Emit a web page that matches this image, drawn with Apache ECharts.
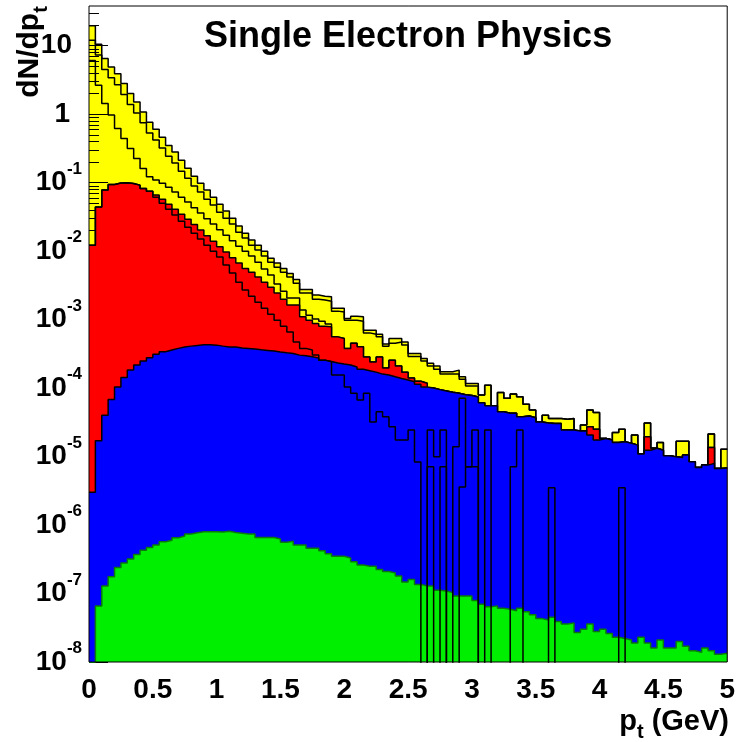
<!DOCTYPE html>
<html>
<head>
<meta charset="utf-8">
<script src="https://cdn.jsdelivr.net/npm/echarts@6/dist/echarts.min.js"></script>
<style>
  html, body { margin: 0; padding: 0; background: #fff; }
  #chart { width: 738px; height: 742px; }
</style>
</head>
<body>
<div id="chart"></div>
<script>
// pt histograms, 100 bins of 0.05 GeV from 0 to 5
const N_BINS = 100
const BIN_WIDTH = 0.05
const binLow = Array.from({ length: N_BINS }, (_, i) => +(i * BIN_WIDTH).toFixed(2))

// yellow: all sources
const totalHist = [
  19.5, 10.5, 6.5, 4.9, 3.9, 2.8, 2.0, 1.51, 1.08, 0.76,
  0.60, 0.46, 0.35, 0.28, 0.213, 0.163, 0.124, 0.098, 0.078, 0.061,
  0.0485, 0.0384, 0.0303, 0.0232, 0.0183, 0.0145, 0.0122, 0.0100, 0.0079, 0.0067,
  0.0056, 0.00472, 0.00386, 0.00276, 0.00275, 0.00228, 0.0022, 0.00215, 0.00146, 0.00146,
  0.00104, 0.00112, 0.0011, 7.0e-4, 7.0e-4, 6.1e-4, 4.4e-4, 5.3e-4, 5.3e-4, 4.7e-4,
  3.2e-4, 3.2e-4, 2.7e-4, 2.3e-4, 2.1e-4, 1.73e-4, 1.73e-4, 1.83e-4, 1.46e-4, 1.17e-4,
  1.17e-4, 7.9e-5, 1.1e-4, 5.5e-5, 8.65e-5, 7.1e-5, 8.2e-5, 7.5e-5, 5.8e-5, 4.8e-5,
  3.2e-5, 4.0e-5, 3.6e-5, 3.6e-5, 3.5e-5, 3.6e-5, 2.36e-5, 2.9e-5, 4.8e-5, 4.4e-5,
  1.84e-5, 1.74e-5, 2.25e-5, 2.5e-5, 1.56e-5, 2.06e-5, 1.09e-5, 3.1e-5, 1.32e-5, 1.61e-5,
  1.03e-5, 9.9e-6, 1.68e-5, 1.68e-5, 8.4e-6, 6.95e-6, 7.5e-6, 2.13e-5, 6.7e-6, 1.28e-5,
]

// outline only, inside the yellow
const lineA = [
  12.0, 7.3, 4.5, 3.4, 2.7, 1.94, 1.39, 1.04, 0.75, 0.53,
  0.42, 0.32, 0.244, 0.193, 0.147, 0.116, 0.089, 0.073, 0.057, 0.047,
  0.037, 0.0303, 0.0248, 0.0189, 0.0155, 0.0122, 0.0104, 0.0085, 0.0069, 0.0058,
  0.0049, 0.0042, 0.0034, 0.00244, 0.00244, 0.00199, 0.00193, 0.00186, 0.00133, 0.00129,
  9.8e-4, 9.8e-4, 9.5e-4, 6.4e-4, 6.1e-4, 5.6e-4, 4.1e-4, 4.5e-4, 4.7e-4, 4.25e-4,
  2.9e-4, 2.9e-4, 2.48e-4, 2.1e-4, 1.89e-4, 1.6e-4, 1.6e-4, 1.6e-4, 1.35e-4, 1.07e-4,
  1.07e-4, 7.9e-5, 1.1e-4, 5.5e-5, 8.65e-5, 7.1e-5, 8.2e-5, 7.5e-5, 5.8e-5, 4.8e-5,
  3.2e-5, 4.0e-5, 3.6e-5, 3.6e-5, 3.5e-5, 3.6e-5, 2.36e-5, 2.9e-5, 4.8e-5, 4.4e-5,
  1.84e-5, 1.74e-5, 2.25e-5, 2.5e-5, 1.56e-5, 2.06e-5, 1.09e-5, 3.1e-5, 1.32e-5, 1.61e-5,
  1.03e-5, 9.9e-6, 1.68e-5, 1.68e-5, 8.4e-6, 6.95e-6, 7.5e-6, 2.13e-5, 6.7e-6, 1.28e-5,
]

// red
const redHist = [
  1.22e-2, 4.4e-2, 7.8e-2, 9.4e-2, 9.9e-2, 1.0e-1, 9.7e-2, 9.2e-2, 8.2e-2, 7.5e-2,
  6.6e-2, 5.7e-2, 4.85e-2, 4.1e-2, 3.47e-2, 2.93e-2, 2.44e-2, 2.03e-2, 1.68e-2, 1.40e-2,
  1.16e-2, 9.7e-3, 8.0e-3, 6.7e-3, 5.6e-3, 4.9e-3, 4.2e-3, 3.5e-3, 2.98e-3, 2.44e-3,
  1.99e-3, 1.63e-3, 1.63e-3, 1.1e-3, 9.8e-4, 8.8e-4, 8.0e-4, 7.85e-4, 5.6e-4, 5.3e-4,
  3.8e-4, 4.5e-4, 4.0e-4, 2.84e-4, 2.4e-4, 2.84e-4, 1.96e-4, 2.56e-4, 2.1e-4, 1.71e-4,
  1.40e-4, 1.26e-4, 1.18e-4, 1.0e-4, 9.5e-5, 9.1e-5, 8.7e-5, 8.4e-5, 8.0e-5, 7.8e-5,
  7.4e-5, 6.1e-5, 5.5e-5, 5.5e-5, 4.5e-5, 4.3e-5, 4.3e-5, 3.8e-5, 3.9e-5, 3.7e-5,
  3.2e-5, 3.1e-5, 3.05e-5, 3.05e-5, 2.44e-5, 2.44e-5, 2.36e-5, 2.36e-5, 2.72e-5, 2.5e-5,
  1.84e-5, 1.74e-5, 1.61e-5, 1.64e-5, 1.56e-5, 1.47e-5, 1.09e-5, 1.95e-5, 1.32e-5, 1.24e-5,
  1.03e-5, 9.9e-6, 9.7e-6, 1.05e-5, 8.4e-6, 6.95e-6, 7.5e-6, 1.36e-5, 6.7e-6, 6.8e-6,
]

// outline only, between yellow lines and red
const lineB = [
  6.1, 2.65, 1.43, 0.97, 0.62, 0.44, 0.315, 0.225, 0.161, 0.122,
  0.109, 0.098, 0.086, 0.073, 0.061, 0.052, 0.043, 0.036, 0.0298, 0.0248,
  0.0206, 0.0171, 0.0142, 0.0118, 0.0100, 0.0085, 0.0069, 0.0055, 0.0045, 0.0033,
  0.0026, 0.00206, 0.00206, 0.00138, 0.00116, 0.00102, 9.5e-4, 8.6e-4, 5.6e-4, 5.3e-4,
  3.8e-4, 4.5e-4, 4.0e-4, 2.84e-4, 2.4e-4, 2.84e-4, 1.96e-4, 2.56e-4, 2.1e-4, 1.71e-4,
  1.40e-4, 1.26e-4, 1.18e-4, 1.0e-4, 9.5e-5, 9.1e-5, 8.7e-5, 8.4e-5, 8.0e-5, 7.8e-5,
  7.4e-5, 6.1e-5, 5.5e-5, 5.5e-5, 4.5e-5, 4.3e-5, 4.3e-5, 3.8e-5, 3.9e-5, 3.7e-5,
  3.2e-5, 3.1e-5, 3.05e-5, 3.05e-5, 2.44e-5, 2.44e-5, 2.36e-5, 2.36e-5, 2.72e-5, 2.5e-5,
  1.84e-5, 1.74e-5, 1.61e-5, 1.64e-5, 1.56e-5, 1.47e-5, 1.09e-5, 1.95e-5, 1.32e-5, 1.24e-5,
  1.03e-5, 9.9e-6, 9.7e-6, 1.05e-5, 8.4e-6, 6.95e-6, 7.5e-6, 1.36e-5, 6.7e-6, 6.8e-6,
]

// blue
const blueHist = [
  3.0e-6, 1.7e-5, 4.0e-5, 6.8e-5, 1.04e-4, 1.43e-4, 1.83e-4, 2.17e-4, 2.48e-4, 2.77e-4,
  3.13e-4, 3.39e-4, 3.59e-4, 3.8e-4, 3.97e-4, 4.1e-4, 4.2e-4, 4.29e-4, 4.29e-4, 4.24e-4,
  4.1e-4, 3.97e-4, 3.97e-4, 3.84e-4, 3.8e-4, 3.71e-4, 3.62e-4, 3.55e-4, 3.47e-4, 3.36e-4,
  3.27e-4, 3.21e-4, 3.03e-4, 2.96e-4, 2.86e-4, 2.74e-4, 2.56e-4, 2.44e-4, 2.32e-4, 2.24e-4,
  2.17e-4, 2.03e-4, 1.89e-4, 1.79e-4, 1.71e-4, 1.60e-4, 1.55e-4, 1.46e-4, 1.38e-4, 1.31e-4,
  1.24e-4, 1.14e-4, 1.04e-4, 1.0e-4, 9.5e-5, 9.1e-5, 8.7e-5, 8.4e-5, 8.0e-5, 7.8e-5,
  7.4e-5, 6.1e-5, 5.5e-5, 5.5e-5, 4.5e-5, 4.3e-5, 4.3e-5, 3.8e-5, 3.9e-5, 3.7e-5,
  3.2e-5, 3.1e-5, 3.05e-5, 3.05e-5, 2.44e-5, 2.44e-5, 2.36e-5, 2.36e-5, 2.06e-5, 1.74e-5,
  1.84e-5, 1.74e-5, 1.61e-5, 1.64e-5, 1.56e-5, 1.47e-5, 1.09e-5, 1.24e-5, 1.32e-5, 1.24e-5,
  1.03e-5, 9.9e-6, 9.7e-6, 1.05e-5, 8.4e-6, 6.95e-6, 7.5e-6, 7.96e-6, 6.7e-6, 6.8e-6,
]

// green
const greenHist = [
  0, 6.6e-8, 1.29e-7, 1.76e-7, 2.4e-7, 2.8e-7, 3.2e-7, 3.7e-7, 4.3e-7, 4.7e-7,
  5.1e-7, 5.7e-7, 6.0e-7, 6.5e-7, 6.9e-7, 7.4e-7, 7.7e-7, 8.0e-7, 8.0e-7, 8.0e-7,
  7.9e-7, 8.1e-7, 7.8e-7, 7.6e-7, 7.4e-7, 7.4e-7, 6.6e-7, 6.6e-7, 6.6e-7, 6.25e-7,
  5.6e-7, 5.8e-7, 5.1e-7, 5.1e-7, 4.6e-7, 4.6e-7, 4.2e-7, 3.8e-7, 3.5e-7, 3.5e-7,
  3.3e-7, 2.9e-7, 2.6e-7, 2.5e-7, 2.5e-7, 2.25e-7, 2.1e-7, 2.0e-7, 1.8e-7, 1.47e-7,
  1.6e-7, 1.36e-7, 1.29e-7, 1.29e-7, 1.12e-7, 1.09e-7, 1.03e-7, 9.2e-8, 9.2e-8, 9.2e-8,
  7.9e-8, 7.0e-8, 6.4e-8, 6.6e-8, 6.1e-8, 5.9e-8, 5.6e-8, 6.1e-8, 5.4e-8, 4.9e-8,
  4.3e-8, 4.1e-8, 4.5e-8, 3.9e-8, 3.6e-8, 3.7e-8, 2.7e-8, 3.0e-8, 3.6e-8, 2.8e-8,
  3.0e-8, 2.6e-8, 2.3e-8, 2.2e-8, 2.1e-8, 1.9e-8, 2.3e-8, 1.9e-8, 1.6e-8, 2.1e-8,
  1.6e-8, 1.6e-8, 2.0e-8, 1.7e-8, 1.46e-8, 1.39e-8, 1.6e-8, 1.46e-8, 1.3e-8, 1.34e-8,
]

// outline only, runs through red then blue, low statistics at high pt
const lineC = [
  1.22e-2, 4.4e-2, 7.8e-2, 9.4e-2, 9.9e-2, 1.0e-1, 9.7e-2, 9.2e-2, 8.2e-2, 7.5e-2,
  0.0614, 0.0502, 0.041, 0.0336, 0.0274, 0.0224, 0.0183, 0.0150, 0.0122, 0.0100,
  0.0082, 0.0063, 0.0048, 0.0035, 0.0027, 0.0022, 0.0018, 0.00147, 0.0012, 9.8e-4,
  8.0e-4, 6.6e-4, 4.7e-4, 3.8e-4, 3.59e-4, 3.03e-4, 2.56e-4, 2.42e-4, 1.55e-4, 1.55e-4,
  1.04e-4, 8.4e-5, 6.7e-5, 8.4e-5, 3.2e-5, 4.5e-5, 3.8e-5, 2.72e-5, 1.74e-5, 1.74e-5,
  2.44e-5, 8.3e-6, 0, 2.44e-5, 9.9e-6, 2.44e-5, 0, 1.39e-5, 7.1e-5, 7.1e-6,
  2.44e-5, 0, 2.44e-5, 0, 0, 0, 7.1e-6, 2.44e-5, 0, 0,
  0, 0, 3.5e-6, 0, 0, 0, 0, 0, 0, 0,
  0, 0, 0, 3.5e-6, 0, 0, 0, 0, 0, 0,
  0, 0, 0, 0, 0, 0, 0, 0, 0, 0,
]

// outline only, a few entries deep in the blue
const lineD = [
  0, 0, 0, 0, 0, 0, 0, 0, 0, 0,
  0, 0, 0, 0, 0, 0, 0, 0, 0, 0,
  0, 0, 0, 0, 0, 0, 0, 0, 0, 0,
  0, 0, 0, 0, 0, 0, 0, 0, 0, 0,
  0, 0, 0, 0, 0, 0, 0, 0, 0, 0,
  0, 0, 0, 7.1e-6, 0, 7.1e-6, 0, 0, 3.6e-6, 7.1e-6,
  7.1e-6, 0, 0, 0, 0, 0, 0, 0, 0, 0,
  0, 0, 0, 0, 0, 0, 0, 0, 0, 0,
  0, 0, 0, 0, 0, 0, 0, 0, 0, 0,
  0, 0, 0, 0, 0, 0, 0, 0, 0, 0,
]

// axis
const yMin = 1e-8
const yMax = 38
const yDecades = [1e-8, 1e-7, 1e-6, 1e-5, 1e-4, 1e-3, 1e-2, 1e-1, 1, 10]
const xTickLabels = ['0', '0.5', '1', '1.5', '2', '2.5', '3', '3.5', '4', '4.5', '5']

const FONT = '"Liberation Sans", Arial, Helvetica, sans-serif'
const FLOOR = 1e-10 // empty bins go below the frame

// 2..9 inside every decade
const yMinorTicks = []
yDecades.forEach(d => {
  for (let m = 2; m <= 9; m++) {
    const v = d * m
    if (v < yMax) yMinorTicks.push(v)
  }
})

function histSeries(name, values, z, lineColor, fillColor) {
  const pts = values.map((v, i) => [binLow[i], v > 0 ? v : FLOOR])
  pts.push([N_BINS * BIN_WIDTH, pts[pts.length - 1][1]])
  const s = {
    name,
    type: 'line',
    step: 'end',
    data: pts,
    symbol: 'none',
    clip: true,
    z,
    silent: true,
    lineStyle: { color: lineColor, width: 1.5 },
  }
  if (fillColor) {
    s.areaStyle = { color: fillColor, opacity: 1, origin: 'start' }
  }
  return s
}

const chart = echarts.init(document.getElementById('chart'))

const option = {
  backgroundColor: '#fff',
  animation: false,
  grid: {
    left: 89, right: 10, top: 6, bottom: 80,
    show: true, borderColor: '#000', borderWidth: 1,
    backgroundColor: 'rgba(0,0,0,0)',
    z: 10,
  },
  xAxis: {
    type: 'value',
    min: 0, max: 5, interval: 0.5,
    axisLine: { show: false },
    axisTick: { show: false },
    splitLine: { show: false },
    axisLabel: {
      margin: 14,
      fontSize: 28,
      fontWeight: 'bold',
      fontFamily: FONT,
      color: '#000',
      formatter: (v) => xTickLabels[Math.round(v / 0.5)],
    },
  },
  yAxis: [
    {
      type: 'log',
      logBase: 10,
      position: 'left',
      min: yMin, max: yMax,
      z: 2,
      axisLine: { show: false },
      splitLine: { show: false },
      axisTick: {
        show: true, inside: true, length: 19,
        customValues: yDecades,
        lineStyle: { color: '#000', width: 1 },
      },
      axisLabel: {
        margin: 7,
        customValues: yDecades,
        color: '#000',
        fontFamily: FONT,
        formatter: (v) => {
          const e = Math.round(Math.log10(v))
          if (e === 0) return '{p1|1}'
          if (e === 1) return '{p10|10}'
          return '{b|10}{e|' + e + '}'
        },
        rich: {
          b: { fontSize: 28, fontWeight: 'bold', fontFamily: FONT, color: '#000', lineHeight: 44 },
          e: { fontSize: 17, fontWeight: 'bold', fontFamily: FONT, color: '#000', lineHeight: 17, verticalAlign: 'top' },
          p1: { fontSize: 28, fontWeight: 'bold', fontFamily: FONT, color: '#000', padding: [0, 12, 0, 0] },
          p10: { fontSize: 28, fontWeight: 'bold', fontFamily: FONT, color: '#000', padding: [0, 10, 0, 0] },
        },
      },
    },
    {
      type: 'log',
      logBase: 10,
      position: 'left',
      offset: 0,
      min: yMin, max: yMax,
      z: 2,
      axisLine: { show: false },
      splitLine: { show: false },
      axisLabel: { show: false },
      axisTick: {
        show: true, inside: true, length: 10,
        customValues: yMinorTicks,
        lineStyle: { color: '#000', width: 1 },
      },
    },
  ],
  series: [
    histSeries('all', totalHist, 1, '#000', '#ffff00'),
    histSeries('a', lineA, 3, '#000', null),
    histSeries('b', lineB, 3, '#000', null),
    histSeries('red', redHist, 4, '#000', '#ff0000'),
    histSeries('blue', blueHist, 5, '#000', '#0000ff'),
    histSeries('green', greenHist, 6, '#0a7a0a', '#00ee00'),
    histSeries('c', lineC, 7, '#000', null),
    histSeries('d', lineD, 7, '#000', null),
  ],
  graphic: [
    {
      type: 'text',
      x: 204, y: 37,
      style: {
        text: 'Single Electron Physics',
        font: 'bold 36px ' + FONT,
        fill: '#000',
        align: 'left',
        verticalAlign: 'middle',
      },
      z: 20,
    },
    {
      type: 'text',
      x: 30, y: 52,
      rotation: Math.PI / 2,
      style: {
        text: '{m|dN/dp}{s|t}',
        align: 'center',
        verticalAlign: 'middle',
        rich: {
          m: { fontSize: 30, fontWeight: 'bold', fontFamily: FONT, fill: '#000', lineHeight: 30, verticalAlign: 'top' },
          s: { fontSize: 20, fontWeight: 'bold', fontFamily: FONT, fill: '#000', lineHeight: 20, verticalAlign: 'top', padding: [16, 0, 0, 0] },
        },
      },
      z: 20,
    },
    {
      type: 'text',
      x: 729, y: 722,
      style: {
        text: '{m|p}{s|t}{m| (GeV)}',
        align: 'right',
        verticalAlign: 'middle',
        rich: {
          m: { fontSize: 29, fontWeight: 'bold', fontFamily: FONT, fill: '#000', lineHeight: 29, verticalAlign: 'top' },
          s: { fontSize: 20, fontWeight: 'bold', fontFamily: FONT, fill: '#000', lineHeight: 20, verticalAlign: 'top', padding: [15, 0, 0, 0] },
        },
      },
      z: 20,
    },
  ],
}

chart.setOption(option)
</script>
</body>
</html>
